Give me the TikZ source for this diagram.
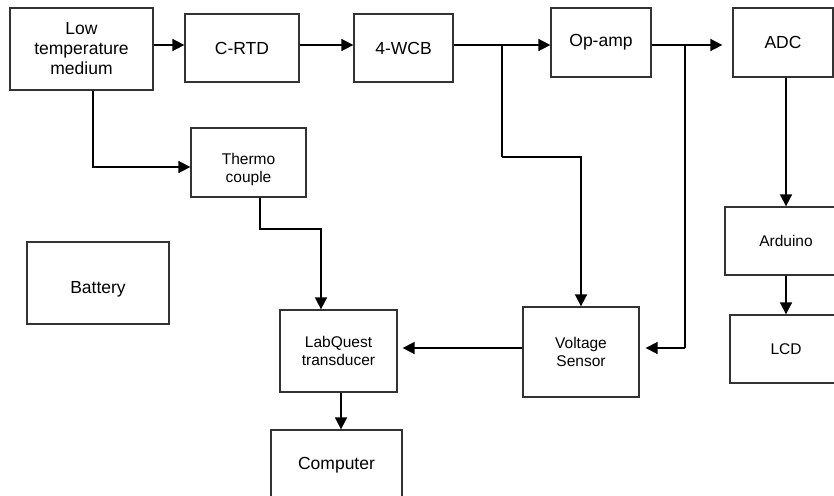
\documentclass[tikz,border=0pt]{standalone}
\usepackage{fontspec}
\setmainfont{Liberation Sans}
\usetikzlibrary{arrows.meta,calc}
\tikzset{
  blk/.style={draw=black!80, line width=1.3pt, fill=white, align=center, inner sep=0pt},
  big/.style={font=\fontsize{17.5}{20}\selectfont},
  small/.style={font=\fontsize{15.5}{17.5}\selectfont},
  conn/.style={line width=1.7pt, black},
  arr/.style={conn, -{Triangle[length=12pt,width=12pt]}},
}
\begin{document}
\begin{tikzpicture}[x=1pt,y=-1pt]
\useasboundingbox (0,0) rectangle (834,495);
\clip (0,0) rectangle (834,495);
% boxes
\node[blk,big,minimum width=143pt,minimum height=82pt] (ltm) at (81.5,49) {Low\\temperature\\medium};
\node[blk,big,minimum width=114pt,minimum height=68pt] (crtd) at (242,48) {C-RTD};
\node[blk,big,minimum width=99pt,minimum height=68pt] (wcb) at (403.5,48) {4-WCB};
\node[blk,big,minimum width=100pt,minimum height=69pt] (opamp) at (601,42.5) {Op-amp};
\node[blk,big,minimum width=100pt,minimum height=69pt] (adc) at (783,42.5) {ADC};
\node[blk,small,minimum width=115pt,minimum height=69pt,
      label={[small,align=center,yshift=-7pt]center:Thermo\\couple}] (thermo) at (248.5,162.5) {};
\node[blk,big,minimum width=142pt,minimum height=82pt,
      label={[big,yshift=-6pt]center:Battery}] (battery) at (98,283) {};
\node[blk,small,minimum width=117pt,minimum height=82pt] (labq) at (338.5,351) {LabQuest\\transducer};
\node[blk,big,minimum width=131pt,minimum height=70pt] (comp) at (336.5,465) {Computer};
\node[blk,small,minimum width=116pt,minimum height=90pt] (volt) at (581,352) {Voltage\\Sensor};
\node[blk,small,minimum width=122pt,minimum height=68pt] (ard) at (786,241) {Arduino};
\node[blk,small,minimum width=112pt,minimum height=68pt] (lcd) at (786,349) {LCD};
% helper coordinates
\coordinate (ya) at (0,45);
\coordinate (j1) at (502,45);
\coordinate (b1) at (502,157);
\coordinate (j2) at (685,45);
\coordinate (b2) at (685,348);
\coordinate (xadc) at (786,0);
\coordinate (tl) at (93,0);
\coordinate (t1) at (93,167);
\coordinate (t2) at (260,229);
\coordinate (xlq) at (321,0);
\coordinate (xc) at (341,0);
% connectors
\draw[arr] (ltm.east |- ya) -- (crtd.west |- ya);
\draw[arr] (crtd.east |- ya) -- (wcb.west |- ya);
\draw[arr] (wcb.east |- ya) -- (opamp.west |- ya);
\draw[conn] (j1) -- (b1);
\draw[arr] (b1) -| (volt.north);
\draw[arr, shorten >=10pt] (opamp.east |- j2) -- (adc.west |- j2);
\draw[conn] (j2) -- (b2);
\draw[arr, shorten >=6pt] (b2) -- (volt.east |- b2);
\draw[arr] (adc.south -| xadc) -- (ard.north -| xadc);
\draw[arr] (ard.south -| xadc) -- (lcd.north -| xadc);
\draw[arr] (ltm.south -| tl) -- (t1) -- (thermo.west |- t1);
\draw[arr] (thermo.south -| t2) -- (t2) -| (labq.north -| xlq);
\draw[arr, shorten >=5pt] (volt.west |- b2) -- (labq.east |- b2);
\draw[arr] (labq.south -| xc) -- (comp.north -| xc);
\end{tikzpicture}
\end{document}
